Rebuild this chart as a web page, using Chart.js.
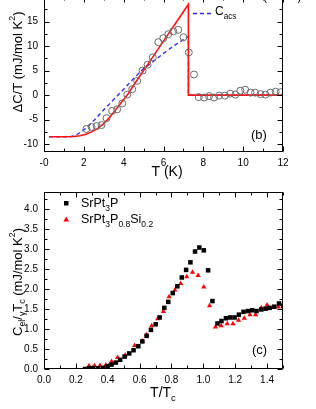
<!DOCTYPE html>
<html lang="en">
<head>
<meta charset="UTF-8">
<script src="https://cdn.jsdelivr.net/npm/chart.js"></script>
<style>
    body { margin: 0; width: 316px; height: 409px; overflow: hidden; background: #fff; position: relative; }
    canvas { position: absolute; left: 0; }
    #graficoB { top: -20px; }
    #graficoC { top: 180px; }
</style>
</head>
<body>
<canvas id="graficoB" width="316" height="200"></canvas>
<canvas id="graficoC" width="316" height="229"></canvas>
<script>
    // ---- painel (b): delta C/T x T ----
    const tMedido = [2.13, 2.39, 2.64, 2.89, 3.14, 3.42, 3.67, 3.93, 4.18, 4.43, 4.68, 4.95, 5.20, 5.46, 5.74, 5.99, 6.24, 6.49, 6.74, 7.00, 7.27, 7.53,
        7.77, 8.04, 8.29, 8.54, 8.79, 9.08, 9.35, 9.61, 9.86, 10.10, 10.37, 10.60, 10.87, 11.12, 11.37, 11.63, 11.88];
    const dcMedido = [-6.9, -6.5, -6.3, -6.1, -4.7, -3.2, -2.9, -1.7, 0.1, 1.2, 2.9, 5.0, 6.2, 7.7, 10.8, 11.6, 12.4, 13.0, 13.3, 11.8, 8.7, 4.2,
        -0.4, -0.5, -0.2, -0.5, -0.1, -0.1, 0.3, 0.1, 0.9, 1.1, 0.5, 0.5, 0.2, 0.1, 0.5, 0.7, 0.6];

    const tModelo = [0.25, 1.0, 1.5, 1.8, 2.1, 2.4, 2.7, 3.0, 3.3, 3.6, 3.9, 4.2, 4.5, 4.8, 5.1, 5.5, 6.0, 6.5, 7.0, 7.25, 7.25, 12];
    const dcModelo = [-8.5, -8.5, -8.45, -8.3, -8.0, -7.5, -6.8, -5.8, -4.5, -3.0, -1.4, 0.1, 2.0, 3.8, 5.6, 8.0, 11.0, 14.0, 17.0, 18.5, 0, 0];

    const tAcs = [0.25, 1.3, 1.6, 2.1, 2.5, 3.0, 3.5, 4.0, 4.5, 5.0, 5.5, 6.0, 6.5, 7.0, 7.25, 7.25, 12];
    const dcAcs = [-8.5, -8.5, -8.2, -6.8, -5.2, -3.0, -0.9, 1.2, 3.4, 5.4, 6.9, 8.5, 10.0, 11.3, 12.0, 0, 0];

    const ticksXB = [0, 2, 4, 6, 8, 10, 12];
    const rotulosXB = ['-0', '2', '4', '6', '8', '10', '12'];
    const menoresXB = [1, 3, 5, 7, 9, 11];
    const ticksYB = [-10, -5, 0, 5, 10, 15, 20];
    const menoresYB = [-7.5, -2.5, 2.5, 7.5, 12.5, 17.5];

    // ---- painel (c): Cel/gamma Tc x T/Tc ----
    const tP = [0.258, 0.283, 0.308, 0.340, 0.371, 0.399, 0.424, 0.451, 0.478, 0.506, 0.535, 0.562, 0.592, 0.617, 0.644, 0.671, 0.701, 0.726, 0.755,
        0.780, 0.808, 0.837, 0.865, 0.892, 0.919, 0.948, 0.975, 1.003, 1.030, 1.057, 1.089, 1.114, 1.142, 1.169, 1.196, 1.223, 1.252, 1.280,
        1.307, 1.334, 1.364, 1.391, 1.416, 1.446, 1.475, 1.502];
    const cP = [0.0, 0.02, 0.02, 0.02, 0.03, 0.07, 0.11, 0.16, 0.23, 0.31, 0.39, 0.47, 0.57, 0.69, 0.83, 0.98, 1.12, 1.29, 1.53,
        1.68, 1.90, 2.07, 2.29, 2.48, 2.67, 2.94, 3.04, 2.97, 2.47, 1.70, 1.14, 1.20, 1.27, 1.29, 1.29, 1.36, 1.43, 1.45,
        1.47, 1.45, 1.49, 1.51, 1.53, 1.56, 1.64, 1.58];

    const tSi = [0.283, 0.317, 0.351, 0.388, 0.424, 0.462, 0.510, 0.569, 0.619, 0.644, 0.676, 0.714, 0.749, 0.785, 0.821, 0.858, 0.896, 0.932,
        0.967, 1.003, 1.039, 1.076, 1.112, 1.150, 1.186, 1.221, 1.257, 1.293, 1.328, 1.364, 1.400, 1.435, 1.471];
    const cSi = [0.08, 0.08, 0.09, 0.10, 0.19, 0.29, 0.35, 0.59, 0.70, 0.86, 1.08, 1.26, 1.44, 1.81, 1.98, 2.14, 2.31, 2.42,
        2.34, 2.05, 1.58, 1.05, 1.08, 1.13, 1.13, 1.22, 1.27, 1.36, 1.36, 1.53, 1.60, 1.54, 1.55];

    const ticksXC = [0, 0.2, 0.4, 0.6, 0.8, 1.0, 1.2, 1.4];
    const rotulosXC = ['0.0', '0.2', '0.4', '0.6', '0.8', '1.0', '1.2', '1.4'];
    const menoresXC = [0.1, 0.3, 0.5, 0.7, 0.9, 1.1, 1.3, 1.5];
    const ticksYC = [0, 0.5, 1.0, 1.5, 2.0, 2.5, 3.0, 3.5, 4.0];
    const rotulosYC = ['0.0', '0.5', '1.0', '1.5', '2.0', '2.5', '3.0', '3.5', '4.0'];
    const menoresYC = [0.25, 0.75, 1.25, 1.75, 2.25, 2.75, 3.25, 3.75, 4.25];

    const FONTE = '"Liberation Sans", Arial, sans-serif';

    function pontos(xs, ys) {
        return xs.map(function (x, i) { return { x: x, y: ys[i] }; });
    }

    // texto com sub/sobrescrito: partes = [[texto, ''|'sub'|'sup'], ...]
    function textoRico(ctx, partes, x, y, tam, centro) {
        let largura = 0;
        partes.forEach(function (p) {
            ctx.font = (p[1] ? tam * 0.68 : tam) + 'px ' + FONTE;
            largura += ctx.measureText(p[0]).width;
        });
        let cx = centro ? x - largura / 2 : x;
        ctx.textAlign = 'left';
        ctx.textBaseline = 'middle';
        ctx.fillStyle = '#000';
        partes.forEach(function (p) {
            ctx.font = (p[1] ? tam * 0.68 : tam) + 'px ' + FONTE;
            let dy = p[1] === 'sub' ? tam * 0.38 : (p[1] === 'sup' ? -tam * 0.38 : 0);
            ctx.fillText(p[0], cx, y + dy);
            cx += ctx.measureText(p[0]).width;
        });
    }

    // moldura com ticks para dentro nos 4 lados
    function moldura(chart, xMaior, xMenor, yMaior, yMenor) {
        const ctx = chart.ctx, a = chart.chartArea;
        const sx = chart.scales.x, sy = chart.scales.y;
        const L = Math.round(a.left) + 0.5, R = Math.round(a.right) - 0.5;
        const T = Math.round(a.top) + 0.5, B = Math.round(a.bottom) - 0.5;
        ctx.save();
        ctx.strokeStyle = '#000';
        ctx.lineWidth = 1;
        ctx.strokeRect(L, T, R - L, B - T);
        ctx.beginPath();
        function tx(v, n) {
            const p = Math.round(sx.getPixelForValue(v)) + 0.5;
            if (p < L - 1 || p > R + 1) return;
            ctx.moveTo(p, B); ctx.lineTo(p, B - n);
            ctx.moveTo(p, T); ctx.lineTo(p, T + n);
        }
        function ty(v, n) {
            const p = Math.round(sy.getPixelForValue(v)) + 0.5;
            if (p < T - 1 || p > B + 1) return;
            ctx.moveTo(L, p); ctx.lineTo(L + n, p);
            ctx.moveTo(R, p); ctx.lineTo(R - n, p);
        }
        xMaior.forEach(function (v) { tx(v, 5); });
        xMenor.forEach(function (v) { tx(v, 3); });
        yMaior.forEach(function (v) { ty(v, 5); });
        yMenor.forEach(function (v) { ty(v, 3); });
        ctx.stroke();
        ctx.restore();
    }

    function escalaX(min, max, ticks, rotulos, altura) {
        return {
            type: 'linear', min: min, max: max,
            afterBuildTicks: function (s) { s.ticks = ticks.map(function (v) { return { value: v }; }); },
            afterFit: function (s) { s.height = altura; },
            ticks: {
                callback: function (v, i) { return rotulos[i]; },
                color: '#000', font: { size: 10, family: FONTE }, padding: 5,
                maxRotation: 0, autoSkip: false
            },
            grid: { display: false, drawTicks: false },
            border: { display: false }
        };
    }

    function escalaY(min, max, ticks, rotulos) {
        return {
            type: 'linear', min: min, max: max,
            afterBuildTicks: function (s) { s.ticks = ticks.map(function (v) { return { value: v }; }); },
            afterFit: function (s) { s.width = 44; },
            ticks: {
                callback: function (v, i) { return rotulos[i]; },
                color: '#000', font: { size: 10, family: FONTE }, padding: 6, autoSkip: false
            },
            grid: { display: false, drawTicks: false },
            border: { display: false }
        };
    }

    const opcoesBase = {
        responsive: false,
        animation: false,
        devicePixelRatio: 1,
        plugins: { legend: { display: false }, tooltip: { enabled: false } }
    };

    // ---------- grafico (b) ----------
    new Chart(document.getElementById('graficoB'), {
        type: 'scatter',
        data: {
            datasets: [
                {
                    data: pontos(tMedido, dcMedido), pointStyle: 'circle', pointRadius: 3.5,
                    borderColor: '#6a6a6a', backgroundColor: 'rgba(0,0,0,0)', pointBorderWidth: 1
                },
                {
                    data: pontos(tModelo, dcModelo), showLine: true, pointRadius: 0,
                    borderColor: '#ff1010', borderWidth: 1.6
                },
                {
                    data: pontos(tAcs, dcAcs), showLine: true, pointRadius: 0,
                    borderColor: '#2a2aff', borderWidth: 1.4, borderDash: [4, 3]
                }
            ]
        },
        options: Object.assign({}, opcoesBase, {
            layout: { padding: { top: 17, right: 33, left: 0, bottom: 0 } },
            scales: {
                x: escalaX(0, 12, ticksXB, rotulosXB, 28),
                y: escalaY(-11.6, 20, ticksYB, ticksYB.map(String))
            }
        }),
        plugins: [{
            id: 'extrasB',
            afterDraw: function (chart) {
                const ctx = chart.ctx;
                moldura(chart, ticksXB, menoresXB, ticksYB, menoresYB);
                ctx.save();
                // titulos dos eixos
                textoRico(ctx, [['T (K)', '']], 167, 192, 14, true);
                ctx.translate(18, 82);
                ctx.rotate(-Math.PI / 2);
                textoRico(ctx, [['\u0394C/T (mJ/mol K', ''], ['2', 'sup'], [')', '']], 0, 0, 13, true);
                ctx.restore();
                ctx.save();
                textoRico(ctx, [['(b)', '']], 251, 155, 13, false);
                // legenda
                ctx.strokeStyle = '#ff1010';
                ctx.lineWidth = 1.6;
                ctx.beginPath(); ctx.moveTo(193, 17); ctx.lineTo(213, 17); ctx.stroke();
                textoRico(ctx, [['\u03b1-model (\u03b1=2.1)', '']], 216, 17, 12, false);
                ctx.strokeStyle = '#2a2aff';
                ctx.lineWidth = 1.4;
                ctx.setLineDash([4, 3]);
                ctx.beginPath(); ctx.moveTo(193, 33.5); ctx.lineTo(213, 33.5); ctx.stroke();
                ctx.setLineDash([]);
                textoRico(ctx, [['C', ''], ['acs', 'sub']], 215, 32, 12, false);
                ctx.restore();
            }
        }]
    });

    // ---------- grafico (c) ----------
    new Chart(document.getElementById('graficoC'), {
        type: 'scatter',
        data: {
            datasets: [
                {
                    data: pontos(tP, cP), pointStyle: 'rect', pointRadius: 3.2,
                    backgroundColor: '#000', borderColor: '#000', pointBorderWidth: 0
                },
                {
                    data: pontos(tSi, cSi), pointStyle: 'triangle', pointRadius: 3,
                    backgroundColor: '#ff0000', borderColor: '#ff0000', pointBorderWidth: 0
                }
            ]
        },
        options: Object.assign({}, opcoesBase, {
            layout: { padding: { top: 5, right: 33, left: 0, bottom: 0 } },
            scales: {
                x: escalaX(0, 1.5, ticksXC, rotulosXC, 40),
                y: escalaY(0, 4.43, ticksYC, rotulosYC)
            }
        }),
        plugins: [{
            id: 'extrasC',
            afterDraw: function (chart) {
                const ctx = chart.ctx;
                moldura(chart, ticksXC, menoresXC, ticksYC, menoresYC);
                ctx.save();
                textoRico(ctx, [['T/T', ''], ['c', 'sub']], 163, 213, 14, true);
                ctx.translate(18, 102);
                ctx.rotate(-Math.PI / 2);
                textoRico(ctx, [['C', ''], ['el', 'sub'], ['/', ''], ['\u03b3', 'sub'], ['T', ''], ['c', 'sub'], [' (mJ/mol K', ''], ['2', 'sup'], [')', '']], 0, 0, 13, true);
                ctx.restore();
                ctx.save();
                textoRico(ctx, [['(c)', '']], 252, 170, 13, false);
                // legenda
                ctx.fillStyle = '#000';
                ctx.fillRect(64, 21, 4.5, 4.5);
                textoRico(ctx, [['SrPt', ''], ['3', 'sub'], ['P', '']], 81, 23.5, 12.5, false);
                ctx.fillStyle = '#ff0000';
                ctx.beginPath();
                ctx.moveTo(66.2, 36.5); ctx.lineTo(69, 41.5); ctx.lineTo(63.4, 41.5); ctx.closePath();
                ctx.fill();
                textoRico(ctx, [['SrPt', ''], ['3', 'sub'], ['P', ''], ['0.8', 'sub'], ['Si', ''], ['0.2', 'sub']], 81, 39.5, 12.5, false);
                ctx.restore();
            }
        }]
    });
</script>
</body>
</html>
